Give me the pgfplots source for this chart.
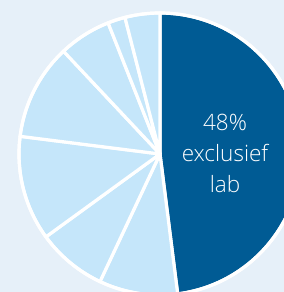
\documentclass[border=0pt]{standalone}
\usepackage{pgfplots}
\usepackage{pgfplotstable}
\pgfplotsset{compat=1.18}
\usepackage{fontspec}
\setmainfont{Open Sans}[UprightFont=* Light]
\definecolor{bgc}{RGB}{230,240,249}
\definecolor{lightc}{RGB}{197,230,250}
\definecolor{darkc}{RGB}{0,91,148}
\pgfplotstableread{
share fillc
48 darkc
9  lightc
8  lightc
12 lightc
11 lightc
6  lightc
2  lightc
4  lightc
}\slices
\begin{document}
\begin{tikzpicture}
\fill[bgc] (0,0) rectangle (284bp,292bp);
\begin{axis}[name=ax, at={(0,0)}, anchor=south west,
  x=1bp, y=1bp, xmin=0, xmax=284, ymin=0, ymax=292,
  scale only axis, hide axis, clip=true]
\pgfplotstablegetrowsof{\slices}
\pgfmathtruncatemacro{\nrows}{\pgfplotsretval-1}
\def\cum{0}
\pgfplotsforeachungrouped \i in {0,...,\nrows}{%
  \pgfplotstablegetelem{\i}{share}\of\slices
  \let\val\pgfplotsretval
  \pgfplotstablegetelem{\i}{fillc}\of\slices
  \let\col\pgfplotsretval
  \pgfmathsetmacro{\sa}{90-3.6*\cum}%
  \pgfmathsetmacro{\ea}{90-3.6*(\cum+\val)}%
  \pgfmathsetmacro{\cum}{\cum+\val}%
  \edef\temp{\noexpand\filldraw[fill=\col, draw=white, line width=3.2bp, line join=round]
    (axis cs:160,138) -- ++(\sa:141bp) arc[start angle=\sa, end angle=\ea, radius=141bp] -- cycle;}%
  \temp
}
\draw[white, line width=3.2bp] (axis cs:160,138) circle[radius=141bp];
\node[text=white, align=center, font=\fontsize{22.5bp}{31bp}\selectfont] at (axis cs:225,139) {48\%\\exclusief\\lab};
\end{axis}
\pgfresetboundingbox
\useasboundingbox (0,0) rectangle (284bp,292bp);
\end{tikzpicture}
\end{document}
